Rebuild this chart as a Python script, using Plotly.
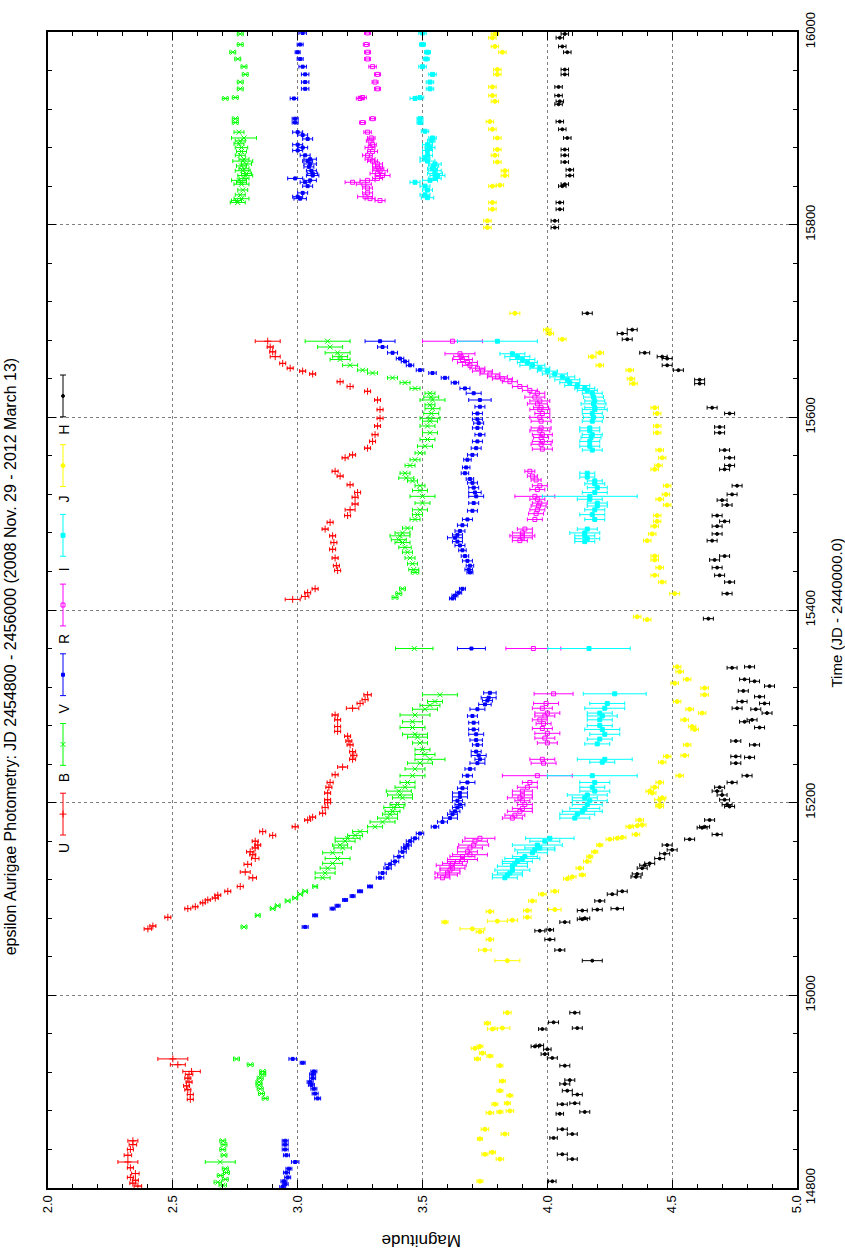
import plotly.graph_objects as go

# ---------------------------------------------------------------------------
# epsilon Aurigae photometry, JD 2454800 - 2456000 (time = JD - 2440000)
# ---------------------------------------------------------------------------
BANDS = ["U", "B", "V", "R", "I", "J", "H"]
COLORS = {"U": "#ff0000", "B": "#00ff00", "V": "#0000ff", "R": "#ff00ff",
          "I": "#00ffff", "J": "#ffff00", "H": "#000000"}
SYMBOLS = {"U": "cross-thin-open", "B": "x-thin-open", "V": "square",
           "R": "square-open", "I": "square", "J": "circle", "H": "circle"}
SIZES = {"U": 5, "B": 5, "V": 3, "R": 4, "I": 4, "J": 4, "H": 3}

MAG_TICKS = [2.0, 2.5, 3.0, 3.5, 4.0, 4.5, 5.0]
TIME_TICKS = [14800, 15000, 15200, 15400, 15600, 15800, 16000]

U_time = [14802, 14805, 14808, 14811, 14815, 14821, 14827, 14834, 14840, 14845, 14849,
          14892, 14897, 14902, 14906, 14910, 14914, 14918, 14921, 14928, 14934,
          15069, 15072, 15081, 15090, 15092, 15096, 15099, 15101, 15104, 15108,
          15113, 15122, 15128, 15136, 15142, 15146, 15149, 15153, 15156, 15160,
          15166, 15170, 15175, 15182, 15185, 15189, 15195, 15200, 15203, 15210,
          15216, 15221, 15229, 15237, 15245, 15249, 15253, 15260, 15264, 15269,
          15274, 15279, 15286, 15291, 15298, 15303, 15307, 15312,
          15411, 15414, 15418, 15422, 15441, 15446, 15454, 15463, 15470, 15477,
          15484, 15491, 15498, 15504, 15510, 15517, 15522, 15530, 15539, 15544,
          15558, 15561, 15568, 15575, 15582, 15591, 15599, 15608, 15618, 15627,
          15632, 15637, 15645, 15648, 15651, 15656, 15663, 15668, 15673, 15679]
U_mag = [2.36, 2.34, 2.35, 2.33, 2.35, 2.33, 2.32, 2.32, 2.33, 2.34, 2.34,
         2.57, 2.57, 2.56, 2.555, 2.565, 2.56, 2.565, 2.575, 2.52, 2.50,
         2.40, 2.42, 2.48, 2.56, 2.59, 2.62, 2.64, 2.67, 2.68, 2.72,
         2.77, 2.82, 2.79, 2.80, 2.83, 2.82, 2.81, 2.83, 2.84, 2.83,
         2.90, 2.86, 2.99, 3.04, 3.06, 3.10, 3.11, 3.12, 3.12, 3.12,
         3.125, 3.13, 3.15, 3.18, 3.22, 3.225, 3.22, 3.21, 3.205, 3.20,
         3.16, 3.16, 3.16, 3.15, 3.22, 3.25, 3.27, 3.28,
         2.98, 3.03, 3.04, 3.07, 3.16, 3.155, 3.15, 3.14, 3.145, 3.14,
         3.11, 3.13, 3.20, 3.21, 3.23, 3.23, 3.24, 3.21, 3.17, 3.15,
         3.19, 3.22, 3.28, 3.30, 3.31, 3.32, 3.33, 3.33, 3.32, 3.28,
         3.21, 3.17, 3.06, 3.02, 2.97, 2.94, 2.91, 2.90, 2.89, 2.88]
U_err = [0.015, 0.012, 0.012, 0.012, 0.015, 0.012, 0.04, 0.015, 0.012, 0.015, 0.02,
         0.012, 0.012, 0.012, 0.012, 0.012, 0.012, 0.015, 0.035, 0.03, 0.06,
         0.015, 0.012, 0.012, 0.012, 0.01, 0.01, 0.01, 0.012, 0.012, 0.012,
         0.012, 0.015, 0.02, 0.015, 0.015, 0.012, 0.015, 0.012, 0.012, 0.012,
         0.012, 0.012, 0.012, 0.012, 0.012, 0.012, 0.012, 0.012, 0.012, 0.012,
         0.012, 0.012, 0.012, 0.02, 0.012, 0.012, 0.012, 0.012, 0.012, 0.012,
         0.012, 0.012, 0.012, 0.012, 0.025, 0.012, 0.012, 0.015,
         0.03, 0.015, 0.012, 0.012, 0.012, 0.012, 0.012, 0.012, 0.012, 0.012,
         0.012, 0.012, 0.012, 0.02, 0.012, 0.012, 0.012, 0.012, 0.012, 0.012,
         0.012, 0.012, 0.012, 0.012, 0.012, 0.012, 0.012, 0.012, 0.012, 0.012,
         0.012, 0.012, 0.012, 0.012, 0.012, 0.012, 0.02, 0.012, 0.012, 0.05]

B_time = [14803, 14806, 14809, 14813, 14816, 14820, 14827, 14834, 14840, 14845, 14849,
          14893, 14898, 14903, 14907, 14910, 14914, 14918, 14921, 14928, 14934,
          15071, 15083, 15090, 15093, 15098, 15101, 15105, 15108, 15113, 15122,
          15127, 15132, 15137, 15142, 15148, 15153, 15156, 15160, 15163, 15166,
          15170, 15175, 15180, 15184, 15188, 15191, 15195, 15198, 15205, 15208,
          15212, 15216, 15221, 15228, 15235, 15241, 15245, 15250, 15255, 15262,
          15268, 15271, 15278, 15284, 15291, 15297, 15301, 15305, 15312, 15360,
          15413, 15417, 15422, 15439, 15442, 15448, 15454, 15460, 15465, 15470,
          15473, 15477, 15480, 15485, 15494, 15499, 15504, 15511, 15518, 15524,
          15529, 15534, 15537, 15542, 15550, 15556, 15563, 15570, 15577, 15584,
          15591, 15596, 15599, 15604, 15609, 15613, 15618, 15621, 15625, 15630,
          15636, 15641, 15646, 15649, 15654, 15660, 15663, 15667, 15673, 15679,
          15823, 15825, 15827, 15831, 15836, 15842, 15844, 15846, 15848, 15851,
          15853, 15856, 15858, 15861, 15863, 15866, 15868, 15872, 15876, 15880,
          15884, 15887, 15890, 15896, 15906, 15910, 15931, 15932, 15941, 15948,
          15956, 15964, 15972, 15979, 15987, 15998]
B_mag = [2.70, 2.68, 2.71, 2.69, 2.715, 2.71, 2.69, 2.705, 2.70, 2.705, 2.70,
         2.87, 2.855, 2.85, 2.845, 2.845, 2.85, 2.86, 2.86, 2.81, 2.755,
         2.785, 2.84, 2.90, 2.92, 2.96, 2.99, 3.01, 3.03, 3.07, 3.10,
         3.11, 3.12, 3.14, 3.16, 3.14, 3.18, 3.17, 3.19, 3.20, 3.23,
         3.25, 3.31, 3.34, 3.36, 3.37, 3.38, 3.385, 3.40, 3.42, 3.41,
         3.405, 3.43, 3.44, 3.46, 3.47, 3.49, 3.53, 3.51, 3.50, 3.49,
         3.48, 3.47, 3.46, 3.46, 3.47, 3.51, 3.53, 3.55, 3.57, 3.467,
         3.39, 3.405, 3.42, 3.47, 3.465, 3.46, 3.45, 3.44, 3.43, 3.42,
         3.405, 3.41, 3.42, 3.44, 3.47, 3.48, 3.49, 3.50, 3.50, 3.49,
         3.49, 3.46, 3.435, 3.43, 3.45, 3.47, 3.49, 3.51, 3.52, 3.53,
         3.52, 3.53, 3.53, 3.535, 3.54, 3.53, 3.54, 3.535, 3.53, 3.47,
         3.43, 3.38, 3.30, 3.26, 3.21, 3.17, 3.17, 3.16, 3.13, 3.12,
         2.76, 2.755, 2.775, 2.77, 2.78, 2.775, 2.775, 2.765, 2.785, 2.79,
         2.795, 2.78, 2.785, 2.775, 2.795, 2.78, 2.785, 2.77, 2.775, 2.775,
         2.765, 2.77, 2.785, 2.765, 2.75, 2.75, 2.71, 2.75, 2.77, 2.77,
         2.79, 2.785, 2.76, 2.74, 2.77, 2.77]
B_err = [0.015, 0.015, 0.012, 0.012, 0.012, 0.012, 0.06, 0.012, 0.012, 0.012, 0.012,
         0.012, 0.012, 0.012, 0.012, 0.012, 0.012, 0.012, 0.012, 0.012, 0.012,
         0.012, 0.01, 0.01, 0.01, 0.01, 0.01, 0.01, 0.01, 0.01, 0.03,
         0.04, 0.03, 0.04, 0.05, 0.04, 0.035, 0.03, 0.04, 0.05, 0.03,
         0.03, 0.03, 0.05, 0.04, 0.03, 0.03, 0.04, 0.03, 0.04, 0.05,
         0.05, 0.04, 0.03, 0.05, 0.04, 0.05, 0.06, 0.04, 0.03, 0.03,
         0.04, 0.05, 0.05, 0.04, 0.06, 0.05, 0.04, 0.03, 0.07, 0.075,
         0.012, 0.012, 0.012, 0.015, 0.02, 0.02, 0.02, 0.02, 0.025, 0.03,
         0.03, 0.04, 0.03, 0.02, 0.02, 0.02, 0.03, 0.03, 0.05, 0.03,
         0.02, 0.02, 0.03, 0.02, 0.02, 0.02, 0.02, 0.03, 0.03, 0.03,
         0.03, 0.03, 0.04, 0.03, 0.03, 0.02, 0.05, 0.03, 0.02, 0.02,
         0.02, 0.02, 0.02, 0.02, 0.03, 0.04, 0.03, 0.05, 0.05, 0.09,
         0.03, 0.02, 0.03, 0.02, 0.02, 0.03, 0.02, 0.03, 0.02, 0.03,
         0.02, 0.03, 0.02, 0.02, 0.02, 0.04, 0.02, 0.02, 0.02, 0.025,
         0.02, 0.02, 0.05, 0.02, 0.012, 0.012, 0.012, 0.012, 0.012, 0.012,
         0.012, 0.012, 0.012, 0.012, 0.012, 0.012]

V_time = [14801, 14804, 14807, 14811, 14816, 14820, 14827, 14834, 14840, 14845, 14849,
          14893, 14898, 14903, 14907, 14910, 14914, 14918, 14921, 14930, 14934,
          15071, 15083, 15090, 15093, 15099, 15103, 15108, 15113, 15122, 15127,
          15132, 15136, 15139, 15144, 15149, 15153, 15156, 15160, 15163, 15168,
          15175, 15180, 15184, 15188, 15191, 15195, 15198, 15202, 15206, 15210,
          15215, 15221, 15228, 15235, 15241, 15245, 15249, 15253, 15260, 15265,
          15271, 15276, 15283, 15290, 15297, 15302, 15306, 15309, 15314, 15360,
          15412, 15415, 15418, 15422, 15439, 15442, 15446, 15451, 15456, 15462,
          15467, 15471, 15475, 15478, 15482, 15488, 15494, 15503, 15511, 15518,
          15522, 15527, 15532, 15536, 15542, 15548, 15556, 15561, 15568, 15575,
          15582, 15589, 15594, 15598, 15604, 15611, 15618, 15625, 15630, 15636,
          15641, 15646, 15649, 15654, 15658, 15661, 15667, 15673, 15679,
          15827, 15829, 15833, 15840, 15844, 15846, 15848, 15851, 15853, 15856,
          15860, 15863, 15866, 15868, 15872, 15877, 15880, 15883, 15889, 15893,
          15896, 15906, 15910, 15931, 15941, 15948, 15956, 15964, 15972, 15979,
          15987, 15999]
V_mag = [2.94, 2.95, 2.945, 2.96, 2.955, 2.965, 2.99, 2.955, 2.95, 2.95, 2.95,
         3.08, 3.07, 3.065, 3.055, 3.05, 3.06, 3.06, 3.065, 3.02, 2.98,
         3.03, 3.07, 3.14, 3.16, 3.19, 3.22, 3.25, 3.29, 3.33, 3.34,
         3.36, 3.37, 3.39, 3.405, 3.42, 3.43, 3.44, 3.45, 3.47, 3.49,
         3.55, 3.58, 3.61, 3.62, 3.63, 3.64, 3.65, 3.64, 3.65, 3.65,
         3.66, 3.68, 3.68, 3.69, 3.72, 3.73, 3.725, 3.715, 3.72, 3.715,
         3.715, 3.705, 3.705, 3.70, 3.72, 3.75, 3.76, 3.765, 3.77, 3.696,
         3.62, 3.63, 3.645, 3.66, 3.69, 3.685, 3.69, 3.68, 3.67, 3.66,
         3.65, 3.64, 3.63, 3.64, 3.65, 3.66, 3.68, 3.70, 3.705, 3.715,
         3.71, 3.705, 3.70, 3.69, 3.67, 3.675, 3.68, 3.70, 3.715, 3.72,
         3.73, 3.72, 3.725, 3.72, 3.72, 3.73, 3.73, 3.705, 3.67, 3.63,
         3.59, 3.54, 3.49, 3.45, 3.43, 3.41, 3.38, 3.34, 3.33,
         3.01, 3.00, 3.02, 3.04, 3.03, 3.05, 2.99, 3.06, 3.06, 3.055,
         3.045, 3.05, 3.04, 3.05, 3.03, 3.00, 3.02, 3.00, 3.04, 3.02,
         3.00, 2.99, 2.99, 2.985, 3.03, 3.03, 3.03, 3.02, 3.01, 3.00,
         3.01, 3.02]
V_err = [0.012, 0.012, 0.012, 0.012, 0.012, 0.012, 0.015, 0.012, 0.012, 0.012, 0.012,
         0.012, 0.012, 0.012, 0.012, 0.012, 0.012, 0.012, 0.012, 0.01, 0.015,
         0.012, 0.01, 0.01, 0.01, 0.01, 0.01, 0.01, 0.01, 0.015, 0.015,
         0.015, 0.02, 0.015, 0.02, 0.015, 0.015, 0.015, 0.015, 0.015, 0.015,
         0.015, 0.02, 0.03, 0.02, 0.02, 0.02, 0.02, 0.02, 0.03, 0.03,
         0.02, 0.03, 0.02, 0.02, 0.03, 0.02, 0.03, 0.02, 0.02, 0.025,
         0.03, 0.02, 0.02, 0.02, 0.03, 0.025, 0.02, 0.03, 0.025, 0.056,
         0.012, 0.012, 0.012, 0.012, 0.012, 0.015, 0.015, 0.02, 0.015, 0.015,
         0.02, 0.02, 0.03, 0.02, 0.02, 0.02, 0.02, 0.02, 0.02, 0.03,
         0.025, 0.02, 0.02, 0.015, 0.015, 0.015, 0.015, 0.02, 0.02, 0.02,
         0.02, 0.02, 0.02, 0.02, 0.02, 0.02, 0.045, 0.03, 0.02, 0.015,
         0.015, 0.015, 0.015, 0.015, 0.015, 0.015, 0.02, 0.02, 0.06,
         0.025, 0.02, 0.02, 0.02, 0.02, 0.025, 0.03, 0.025, 0.02, 0.02,
         0.02, 0.025, 0.02, 0.025, 0.02, 0.02, 0.02, 0.02, 0.02, 0.02,
         0.02, 0.012, 0.012, 0.015, 0.015, 0.015, 0.015, 0.015, 0.012, 0.01,
         0.012, 0.015]

R_time = [15122, 15125, 15127, 15130, 15132, 15135, 15137, 15139, 15141, 15144,
          15146, 15149, 15153, 15156, 15160, 15163, 15184, 15187, 15191, 15194,
          15198, 15202, 15205, 15208, 15212, 15216, 15221, 15228, 15241, 15245,
          15262, 15267, 15272, 15277, 15282, 15286, 15290, 15293, 15298, 15303,
          15313, 15360,
          15472, 15475, 15477, 15480, 15484, 15494, 15500, 15504, 15508, 15511,
          15515, 15518, 15525, 15529, 15535, 15539, 15544, 15567, 15572, 15575,
          15579, 15582, 15586, 15589, 15596, 15600, 15604, 15608, 15610, 15614,
          15617, 15621, 15625, 15628, 15632, 15637, 15640, 15642, 15645, 15648,
          15651, 15654, 15657, 15660, 15663, 15666, 15679,
          15825, 15827, 15829, 15833, 15838, 15842, 15844, 15846, 15848, 15851,
          15853, 15856, 15858, 15860, 15863, 15866, 15868, 15872, 15876, 15880,
          15883, 15887, 15890, 15896, 15906, 15910, 15931, 15932, 15941, 15948,
          15956, 15964, 15972, 15979, 15987, 15999]
R_mag = [3.58, 3.60, 3.60, 3.61, 3.62, 3.615, 3.62, 3.64, 3.66, 3.66,
         3.69, 3.68, 3.69, 3.705, 3.71, 3.73, 3.86, 3.87, 3.89, 3.90,
         3.91, 3.90, 3.89, 3.90, 3.90, 3.92, 3.93, 3.96, 3.985, 3.98,
         4.00, 3.99, 4.00, 3.98, 3.985, 3.97, 3.99, 4.00, 3.98, 3.995,
         4.025, 3.944,
         3.89, 3.90, 3.90, 3.90, 3.91, 3.95, 3.955, 3.96, 3.965, 3.97,
         3.96, 3.95, 3.96, 3.97, 3.955, 3.94, 3.93, 3.98, 3.975, 3.98,
         3.975, 3.98, 3.97, 3.975, 3.975, 3.97, 3.98, 3.97, 3.975, 3.96,
         3.97, 3.95, 3.96, 3.93, 3.89, 3.85, 3.82, 3.80, 3.77, 3.74,
         3.72, 3.69, 3.68, 3.66, 3.655, 3.65, 3.62,
         3.33, 3.29, 3.27, 3.28, 3.28, 3.265, 3.22, 3.28, 3.32, 3.34,
         3.32, 3.33, 3.325, 3.32, 3.32, 3.30, 3.29, 3.28, 3.30, 3.29,
         3.30, 3.29, 3.295, 3.28, 3.26, 3.30, 3.25, 3.26, 3.32, 3.31,
         3.32, 3.30, 3.28, 3.28, 3.275, 3.28]
R_err = [0.03, 0.04, 0.05, 0.04, 0.05, 0.06, 0.04, 0.04, 0.06, 0.05,
         0.07, 0.04, 0.05, 0.06, 0.05, 0.06, 0.04, 0.04, 0.05, 0.04,
         0.03, 0.03, 0.05, 0.04, 0.04, 0.04, 0.03, 0.14, 0.05, 0.05,
         0.04, 0.04, 0.05, 0.04, 0.03, 0.03, 0.04, 0.05, 0.04, 0.05,
         0.078, 0.11,
         0.03, 0.04, 0.05, 0.04, 0.03, 0.03, 0.03, 0.03, 0.03, 0.03,
         0.03, 0.08, 0.03, 0.03, 0.02, 0.02, 0.02, 0.04, 0.04, 0.04,
         0.03, 0.04, 0.04, 0.04, 0.04, 0.04, 0.03, 0.04, 0.03, 0.04,
         0.04, 0.04, 0.03, 0.03, 0.03, 0.03, 0.04, 0.04, 0.04, 0.04,
         0.03, 0.03, 0.04, 0.04, 0.03, 0.06, 0.12,
         0.02, 0.02, 0.03, 0.02, 0.02, 0.03, 0.03, 0.03, 0.02, 0.03,
         0.03, 0.03, 0.02, 0.02, 0.02, 0.02, 0.02, 0.02, 0.02, 0.02,
         0.015, 0.015, 0.015, 0.015, 0.012, 0.012, 0.015, 0.015, 0.012, 0.012,
         0.012, 0.015, 0.012, 0.012, 0.012, 0.012]

I_time = [15122, 15125, 15127, 15130, 15134, 15137, 15139, 15142, 15144, 15148,
          15151, 15153, 15156, 15160, 15163, 15184, 15188, 15191, 15194, 15198,
          15202, 15205, 15208, 15212, 15216, 15221, 15228, 15242, 15245, 15261,
          15266, 15271, 15276, 15280, 15286, 15290, 15293, 15298, 15303, 15313,
          15360,
          15471, 15474, 15477, 15480, 15484, 15494, 15499, 15504, 15508, 15511,
          15515, 15518, 15522, 15527, 15531, 15534, 15538, 15542, 15566, 15570,
          15575, 15579, 15582, 15586, 15589, 15596, 15600, 15604, 15608, 15610,
          15614, 15617, 15621, 15625, 15628, 15630, 15633, 15636, 15639, 15642,
          15645, 15648, 15651, 15654, 15657, 15660, 15663, 15666, 15679,
          15828, 15831, 15836, 15840, 15844, 15846, 15848, 15851, 15853, 15856,
          15858, 15861, 15863, 15866, 15869, 15872, 15877, 15880, 15883, 15887,
          15890, 15897, 15906, 15910, 15931, 15932, 15941, 15948, 15956, 15964,
          15972, 15979, 15987, 15999]
I_mag = [3.83, 3.84, 3.85, 3.86, 3.86, 3.87, 3.88, 3.90, 3.91, 3.94,
         3.95, 3.97, 3.96, 3.99, 4.01, 4.11, 4.12, 4.14, 4.15, 4.16,
         4.17, 4.15, 4.16, 4.19, 4.18, 4.19, 4.18, 4.22, 4.23, 4.20,
         4.21, 4.23, 4.22, 4.21, 4.21, 4.22, 4.21, 4.23, 4.24, 4.27,
         4.167,
         4.15, 4.16, 4.15, 4.15, 4.16, 4.19, 4.18, 4.19, 4.20, 4.20,
         4.17, 4.17, 4.19, 4.20, 4.19, 4.19, 4.16, 4.16, 4.18, 4.17,
         4.17, 4.175, 4.18, 4.17, 4.17, 4.18, 4.185, 4.18, 4.19, 4.19,
         4.185, 4.19, 4.185, 4.18, 4.16, 4.15, 4.12, 4.09, 4.08, 4.06,
         4.03, 4.00, 3.97, 3.94, 3.92, 3.90, 3.88, 3.86, 3.80,
         3.52, 3.51, 3.52, 3.51, 3.47, 3.53, 3.55, 3.56, 3.55, 3.55,
         3.54, 3.545, 3.55, 3.52, 3.51, 3.52, 3.52, 3.53, 3.52, 3.535,
         3.54, 3.51, 3.49, 3.49, 3.47, 3.49, 3.53, 3.53, 3.54, 3.50,
         3.515, 3.52, 3.50, 3.50]
I_err = [0.05, 0.06, 0.05, 0.07, 0.06, 0.05, 0.06, 0.07, 0.05, 0.06,
         0.08, 0.06, 0.1, 0.06, 0.097, 0.06, 0.07, 0.08, 0.06, 0.06,
         0.07, 0.05, 0.08, 0.06, 0.05, 0.06, 0.18, 0.05, 0.11, 0.05,
         0.05, 0.06, 0.07, 0.05, 0.05, 0.06, 0.05, 0.08, 0.07, 0.126,
         0.165,
         0.04, 0.05, 0.04, 0.06, 0.04, 0.04, 0.05, 0.04, 0.04, 0.04,
         0.05, 0.19, 0.05, 0.04, 0.04, 0.03, 0.03, 0.03, 0.04, 0.04,
         0.04, 0.04, 0.04, 0.04, 0.04, 0.04, 0.04, 0.04, 0.05, 0.04,
         0.05, 0.04, 0.04, 0.04, 0.04, 0.04, 0.05, 0.04, 0.05, 0.05,
         0.05, 0.04, 0.04, 0.05, 0.04, 0.05, 0.05, 0.05, 0.16,
         0.025, 0.02, 0.02, 0.02, 0.02, 0.03, 0.025, 0.03, 0.03, 0.025,
         0.02, 0.02, 0.025, 0.03, 0.02, 0.02, 0.02, 0.02, 0.02, 0.015,
         0.015, 0.015, 0.012, 0.012, 0.02, 0.015, 0.015, 0.015, 0.015, 0.015,
         0.012, 0.012, 0.012, 0.015]

J_time = [14807, 14830, 14835, 14837, 14851, 14856, 14861, 14878, 14879, 14880,
          14887, 14888, 14896, 14901, 14911, 14927, 14934, 14937, 14940, 14945,
          14947, 14965, 14966, 14971, 14982,
          15036, 15047, 15058, 15066, 15069, 15076, 15077, 15078, 15081, 15087,
          15088, 15089, 15098, 15105, 15108, 15121, 15123, 15125, 15132, 15139,
          15144, 15149, 15156, 15162, 15163, 15164, 15167, 15175, 15176, 15177,
          15182, 15196, 15198, 15203, 15205, 15210, 15212, 15216, 15221, 15228,
          15242, 15248, 15249, 15260, 15276, 15279, 15286, 15293, 15297, 15305,
          15312, 15319, 15324, 15328, 15336, 15341,
          15390, 15393, 15417, 15429, 15436, 15444, 15452, 15456, 15472, 15479,
          15487, 15492, 15498, 15509, 15515, 15520, 15529, 15546, 15550, 15558,
          15566, 15584, 15591, 15604, 15610, 15635, 15640, 15649, 15654, 15663,
          15667, 15681, 15687, 15691, 15708,
          15797, 15804, 15816, 15823, 15840, 15841, 15851, 15856, 15865, 15872,
          15878, 15890, 15899, 15907, 15928, 15934, 15943, 15956, 15961, 15979,
          15985, 15994, 15998]
J_mag = [3.73, 3.81, 3.75, 3.78, 3.73, 3.83, 3.75, 3.77, 3.81, 3.85,
         3.79, 3.84, 3.85, 3.81, 3.82, 3.81, 3.72, 3.77, 3.74, 3.71,
         3.73, 3.78, 3.82, 3.76, 3.84,
         3.84, 3.75, 3.77, 3.73, 3.70, 3.59, 3.80, 3.86, 3.92, 3.77,
         3.92, 4.03, 3.94, 3.98, 4.03, 4.08, 4.10, 4.14, 4.13, 4.16,
         4.17, 4.19, 4.21, 4.25, 4.28, 4.30, 4.355, 4.33, 4.36, 4.38,
         4.37, 4.45, 4.45, 4.45, 4.46, 4.42, 4.41, 4.43, 4.45, 4.53,
         4.46, 4.48, 4.55, 4.56, 4.59, 4.58, 4.55, 4.62, 4.57, 4.52,
         4.63, 4.63, 4.51, 4.56, 4.53, 4.52,
         4.40, 4.36, 4.51, 4.46, 4.43, 4.45, 4.43, 4.43, 4.40, 4.42,
         4.43, 4.44, 4.44, 4.48, 4.45, 4.475, 4.48, 4.43, 4.445, 4.46,
         4.45, 4.44, 4.44, 4.44, 4.43, 4.345, 4.335, 4.33, 4.21, 4.18,
         4.21, 4.06, 4.01, 4.00, 3.87,
         3.76, 3.76, 3.78, 3.78, 3.78, 3.81, 3.83, 3.83, 3.80, 3.79,
         3.80, 3.80, 3.78, 3.77, 3.79, 3.78, 3.78, 3.80, 3.80, 3.82,
         3.79, 3.78, 3.79]
J_err = [0.012, 0.015, 0.012, 0.012, 0.01, 0.015, 0.015, 0.015, 0.012, 0.015,
         0.012, 0.012, 0.012, 0.012, 0.012, 0.012, 0.012, 0.012, 0.012, 0.015,
         0.012, 0.02, 0.03, 0.012, 0.015,
         0.05, 0.025, 0.015, 0.015, 0.05, 0.012, 0.04, 0.02, 0.015, 0.015,
         0.015, 0.025, 0.015, 0.015, 0.015, 0.015, 0.015, 0.012, 0.015, 0.015,
         0.012, 0.012, 0.012, 0.015, 0.015, 0.015, 0.015, 0.015, 0.02, 0.015,
         0.015, 0.015, 0.015, 0.02, 0.015, 0.015, 0.015, 0.015, 0.015, 0.015,
         0.015, 0.015, 0.015, 0.015, 0.015, 0.015, 0.015, 0.015, 0.015, 0.015,
         0.015, 0.015, 0.015, 0.015, 0.015, 0.015,
         0.015, 0.015, 0.02, 0.015, 0.015, 0.015, 0.015, 0.015, 0.015, 0.015,
         0.015, 0.015, 0.015, 0.015, 0.015, 0.015, 0.015, 0.015, 0.015, 0.015,
         0.015, 0.015, 0.015, 0.015, 0.015, 0.015, 0.015, 0.015, 0.015, 0.015,
         0.015, 0.015, 0.015, 0.015, 0.02,
         0.015, 0.015, 0.015, 0.015, 0.015, 0.015, 0.015, 0.015, 0.015, 0.015,
         0.015, 0.015, 0.015, 0.015, 0.015, 0.015, 0.015, 0.015, 0.015, 0.015,
         0.015, 0.015, 0.015]

H_time = [14807, 14830, 14835, 14852, 14856, 14861, 14877, 14879, 14887, 14888,
          14897, 14901, 14908, 14912, 14927, 14935, 14939, 14944, 14947, 14948,
          14965, 14966, 14972, 14982,
          15036, 15047, 15058, 15067, 15068, 15076, 15079, 15080, 15088, 15089,
          15090, 15098, 15105, 15108, 15123, 15126, 15132, 15135, 15137, 15142,
          15147, 15151, 15156, 15162, 15167, 15174, 15175, 15182, 15196, 15198,
          15203, 15208, 15212, 15216, 15221, 15228, 15241, 15247, 15248, 15260,
          15264, 15278, 15284, 15286, 15293, 15297, 15298, 15303, 15305, 15310,
          15316, 15321, 15326, 15328, 15340, 15341,
          15391, 15417, 15429, 15436, 15444, 15452, 15456, 15472, 15479, 15487,
          15492, 15498, 15509, 15514, 15520, 15529, 15546, 15550, 15558, 15566,
          15584, 15590, 15604, 15610, 15635, 15639, 15649, 15654, 15661, 15663,
          15667, 15681, 15687, 15691, 15708,
          15797, 15804, 15816, 15823, 15840, 15842, 15851, 15857, 15865, 15872,
          15878, 15890, 15899, 15907, 15925, 15928, 15934, 15943, 15956, 15961,
          15979, 15985, 15994, 15998]
H_mag = [4.02, 4.10, 4.06, 4.025, 4.10, 4.06, 4.05, 4.15, 4.06, 4.11,
         4.12, 4.08, 4.07, 4.09, 4.07, 4.02, 3.99, 4.00, 3.95, 3.97,
         3.98, 4.12, 4.025, 4.11,
         4.18, 4.05, 4.01, 3.97, 4.01, 4.07, 4.14, 4.15, 4.14, 4.20,
         4.28, 4.21, 4.26, 4.30, 4.355, 4.36, 4.38, 4.39, 4.41, 4.45,
         4.47, 4.50, 4.48, 4.57, 4.68, 4.62, 4.63, 4.65, 4.73, 4.72,
         4.71, 4.70, 4.68, 4.69, 4.74, 4.80, 4.755, 4.81, 4.755, 4.83,
         4.755, 4.85, 4.79, 4.82, 4.88, 4.835, 4.76, 4.87, 4.78, 4.85,
         4.785, 4.89, 4.83, 4.79, 4.74, 4.81,
         4.645, 4.72, 4.73, 4.69, 4.68, 4.67, 4.71, 4.66, 4.68, 4.68,
         4.71, 4.68, 4.72, 4.70, 4.74, 4.76, 4.71, 4.73, 4.73, 4.71,
         4.69, 4.69, 4.73, 4.66, 4.61, 4.61, 4.525, 4.48, 4.48, 4.46,
         4.39, 4.32, 4.30, 4.34, 4.16,
         4.03, 4.03, 4.05, 4.05, 4.06, 4.07, 4.09, 4.09, 4.07, 4.07,
         4.07, 4.08, 4.06, 4.05, 4.045, 4.05, 4.045, 4.045, 4.07, 4.07,
         4.08, 4.06, 4.05, 4.07]
H_err = [0.015, 0.02, 0.02, 0.015, 0.02, 0.02, 0.015, 0.02, 0.02, 0.02,
         0.02, 0.02, 0.02, 0.02, 0.02, 0.02, 0.015, 0.015, 0.015, 0.015,
         0.015, 0.02, 0.02, 0.02,
         0.04, 0.02, 0.02, 0.02, 0.015, 0.02, 0.02, 0.02, 0.02, 0.02,
         0.025, 0.02, 0.02, 0.02, 0.02, 0.02, 0.02, 0.02, 0.02, 0.02,
         0.02, 0.02, 0.02, 0.02, 0.02, 0.02, 0.02, 0.02, 0.02, 0.02,
         0.02, 0.02, 0.02, 0.02, 0.02, 0.02, 0.02, 0.02, 0.02, 0.02,
         0.02, 0.02, 0.02, 0.02, 0.02, 0.02, 0.02, 0.02, 0.02, 0.02,
         0.02, 0.02, 0.02, 0.02, 0.02, 0.02,
         0.02, 0.02, 0.02, 0.02, 0.02, 0.02, 0.02, 0.02, 0.02, 0.02,
         0.02, 0.02, 0.02, 0.02, 0.02, 0.02, 0.02, 0.02, 0.02, 0.02,
         0.02, 0.02, 0.02, 0.02, 0.02, 0.02, 0.02, 0.02, 0.02, 0.02,
         0.02, 0.02, 0.02, 0.02, 0.02,
         0.015, 0.015, 0.015, 0.015, 0.015, 0.015, 0.015, 0.015, 0.015, 0.015,
         0.015, 0.015, 0.015, 0.015, 0.015, 0.015, 0.015, 0.015, 0.015, 0.015,
         0.015, 0.015, 0.015, 0.015]

SERIES = {
    "U": (U_time, U_mag, U_err),
    "B": (B_time, B_mag, B_err),
    "V": (V_time, V_mag, V_err),
    "R": (R_time, R_mag, R_err),
    "I": (I_time, I_mag, I_err),
    "J": (J_time, J_mag, J_err),
    "H": (H_time, H_mag, H_err),
}

FONT = "Liberation Sans, Arial, Helvetica, sans-serif"
W, H = 845, 1256
LEFT, RIGHT, TOP, BOTTOM = 48, 797, 27, 1188   # plot frame in page pixels


def px_to_paper(x, y):
    """Convert page pixel position to paper coordinates of the plot frame."""
    return (x - LEFT) / (RIGHT - LEFT), (BOTTOM - y) / (BOTTOM - TOP)


fig = go.Figure()

for band in BANDS:
    t, m, e = SERIES[band]
    c = COLORS[band]
    fig.add_trace(go.Scatter(
        x=m, y=t, mode="markers", name=band, showlegend=False,
        marker=dict(symbol=SYMBOLS[band], size=SIZES[band], color=c,
                    line=dict(width=1, color=c)),
        error_x=dict(type="data", array=e, visible=True, color=c,
                     thickness=1, width=2),
    ))

# Key: vertical error-bar samples with labels below them, on a pixel overlay
KEY_X = 63
KEY_Y0 = 812.5
KEY_STEP = 70
KEY_HALF = 21
for i, band in enumerate(BANDS):
    c = COLORS[band]
    ky = KEY_Y0 - KEY_STEP * i
    fig.add_trace(go.Scatter(
        x=[KEY_X], y=[ky], xaxis="x2", yaxis="y2", mode="markers",
        showlegend=False, hoverinfo="skip",
        marker=dict(symbol=SYMBOLS[band], size=SIZES[band], color=c,
                    line=dict(width=1, color=c)),
        error_y=dict(type="constant", value=KEY_HALF, visible=True, color=c,
                     thickness=1, width=3),
    ))
    fig.add_annotation(x=KEY_X + 1, y=ky + 34, xref="x2", yref="y2", text=band,
                       textangle=-90, showarrow=False,
                       font=dict(family=FONT, size=14, color="black"))

# Rotated page titles (paper coordinates, may lie outside the frame)
for text, (px, py), angle, size in [
    ("epsilon Aurigae Photometry: JD 2454800 - 2456000 (2008 Nov. 29 - 2012 March 13)",
     (10, 655), -90, 16),
    ("Time (JD - 2440000.0)", (836, 610), -90, 15),
    ("Magnitude", (422, 1240), 180, 17),
]:
    ax, ay = px_to_paper(px, py)
    fig.add_annotation(x=ax, y=ay, xref="paper", yref="paper", text=text,
                       textangle=angle, showarrow=False,
                       xanchor="center", yanchor="middle",
                       font=dict(family=FONT, size=size, color="black"))

grid = dict(showgrid=True, gridcolor="#7f7f7f", griddash="dot", gridwidth=1)
frame = dict(showline=True, linecolor="black", linewidth=2, mirror="allticks",
             ticks="inside", ticklen=8, tickwidth=1, tickcolor="black",
             zeroline=False)

fig.update_layout(
    width=W, height=H,
    margin=dict(l=LEFT, r=W - RIGHT, t=TOP, b=H - BOTTOM, pad=0),
    paper_bgcolor="white", plot_bgcolor="white",
    font=dict(family=FONT, size=13, color="black"),
    showlegend=False,
    xaxis=dict(range=[2.0, 5.0], tickvals=MAG_TICKS,
               ticktext=[f"{v:.1f}" for v in MAG_TICKS], tickangle=-90,
               minor=dict(dtick=0.1, ticklen=4, ticks="inside", tickcolor="black", showgrid=False),
               tickfont=dict(size=13), **grid, **frame),
    yaxis=dict(range=[14800, 16000], tickvals=TIME_TICKS,
               ticktext=[str(v) for v in TIME_TICKS], tickangle=-90, side="right",
               minor=dict(dtick=40, ticklen=4, ticks="inside", tickcolor="black", showgrid=False),
               tickfont=dict(size=13), **grid, **frame),
    xaxis2=dict(range=[LEFT, RIGHT], overlaying="x", anchor="y2", visible=False,
                fixedrange=True),
    yaxis2=dict(range=[BOTTOM, TOP], overlaying="y", anchor="x2", visible=False,
                fixedrange=True),
)

fig.write_html("out.html")
